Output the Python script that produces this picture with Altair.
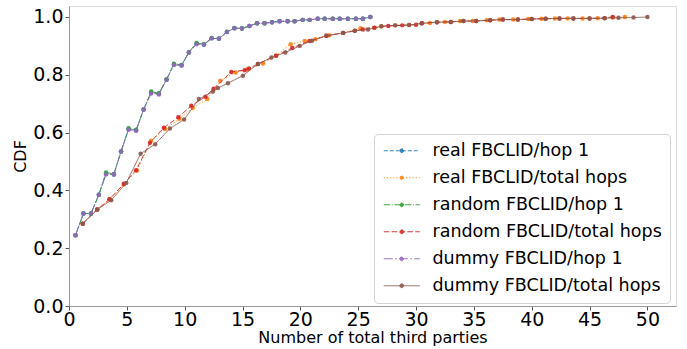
import altair as alt
import pandas as pd

series_names = [
    "real FBCLID/hop 1",
    "real FBCLID/total hops",
    "random FBCLID/hop 1",
    "random FBCLID/total hops",
    "dummy FBCLID/hop 1",
    "dummy FBCLID/total hops",
]
colors = ["#1f77b4", "#ff7f0e", "#2ca02c", "#d62728", "#9467bd", "#8c564b"]
dashes = [[4, 2], [1.2, 2], [6.4, 1.6, 1, 1.6], [5.5, 2.4], [9, 2.4, 1.5, 2.4], [1, 0]]
widths = [1, 1, 1, 1.5, 2, 1]

hop1_x = [0.56, 1.25, 1.9, 2.58, 3.2, 3.88, 4.5, 5.15, 5.8, 6.45, 7.1, 7.77, 8.43, 9.07,
          9.73, 10.36, 11.03, 11.66, 12.33, 12.96, 13.65, 14.3, 14.95, 15.6, 16.25, 16.9,
          17.55, 18.2, 18.9, 19.5, 20.2, 20.8, 21.5, 22.1, 22.8, 23.4, 24.1, 24.8, 25.4, 26.05]

real_hop1_y = [0.245, 0.32, 0.32, 0.385, 0.458, 0.455, 0.535, 0.612, 0.608, 0.68, 0.738,
               0.734, 0.783, 0.836, 0.833, 0.877, 0.908, 0.905, 0.926, 0.925, 0.948, 0.961,
               0.96, 0.969, 0.978, 0.978, 0.982, 0.985, 0.985, 0.985, 0.99, 0.99, 0.994,
               0.994, 0.994, 0.994, 0.994, 0.994, 0.994, 1.0]
random_hop1_y = [0.245, 0.32, 0.32, 0.385, 0.462, 0.457, 0.535, 0.615, 0.61, 0.68, 0.742,
                 0.736, 0.785, 0.838, 0.834, 0.878, 0.91, 0.906, 0.927, 0.926, 0.949, 0.962,
                 0.961, 0.969, 0.978, 0.978, 0.982, 0.985, 0.985, 0.985, 0.99, 0.99, 0.994,
                 0.994, 0.994, 0.994, 0.994, 0.994, 0.994, 1.0]
dummy_hop1_y = [0.245, 0.32, 0.32, 0.385, 0.455, 0.455, 0.535, 0.61, 0.606, 0.68, 0.735,
                0.732, 0.783, 0.834, 0.832, 0.877, 0.906, 0.904, 0.926, 0.925, 0.948, 0.961,
                0.96, 0.969, 0.978, 0.978, 0.982, 0.985, 0.985, 0.985, 0.99, 0.99, 0.994,
                0.994, 0.994, 0.994, 0.994, 0.994, 0.994, 1.0]

real_total_x = [1.19, 2.44, 3.5, 4.74, 5.87, 7.1, 8.3, 9.55, 10.7, 11.95, 13.08, 14.4, 15.4,
                16.77, 17.9, 19.16, 20.37, 21.3, 22.5, 23.7, 25.2, 26.4, 27.0, 28.2, 29.4,
                30.5, 31.2, 32.5, 33.8, 34.9, 36.1, 37.2, 38.4, 39.7, 40.85, 42.0, 43.1, 44.4,
                45.7, 47.0, 48.05]
real_total_y = [0.285, 0.334, 0.369, 0.42, 0.469, 0.572, 0.612, 0.648, 0.685, 0.716, 0.779,
                0.808, 0.818, 0.839, 0.866, 0.906, 0.917, 0.923, 0.937, 0.945, 0.961, 0.963,
                0.968, 0.971, 0.972, 0.978, 0.979, 0.983, 0.986, 0.986, 0.989, 0.991, 0.991,
                0.993, 0.994, 0.995, 0.995, 0.995, 0.996, 0.998, 1.0]

random_total_x = [1.19, 2.44, 3.5, 4.74, 5.8, 7.0, 8.2, 9.45, 10.57, 11.8, 12.5, 14.03, 15.18,
                  15.55, 16.33, 17.9, 19.3, 20.8, 22.25, 23.7, 24.7, 25.4, 26.4, 27.6, 28.8,
                  30.0, 30.5, 31.8, 33.0, 34.1, 35.2, 36.4, 37.5, 38.8, 40.0, 41.2, 42.4, 43.6,
                  45.0, 46.3, 47.0]
random_total_y = [0.285, 0.334, 0.369, 0.423, 0.47, 0.565, 0.617, 0.653, 0.693, 0.724, 0.752,
                  0.81, 0.816, 0.822, 0.837, 0.866, 0.893, 0.917, 0.935, 0.945, 0.952, 0.957,
                  0.963, 0.969, 0.971, 0.973, 0.978, 0.982, 0.983, 0.986, 0.986, 0.989, 0.991,
                  0.991, 0.993, 0.994, 0.995, 0.995, 0.995, 0.996, 1.0]

dummy_total_x = [1.19, 2.44, 3.65, 4.95, 6.19, 7.45, 8.72, 9.95, 11.23, 12.44, 12.87, 13.74,
                 15.03, 16.33, 17.5, 18.7, 19.94, 21.0, 22.25, 23.7, 24.7, 25.85, 27.0, 28.2,
                 29.4, 30.5, 31.8, 33.0, 34.1, 35.2, 36.4, 37.5, 38.8, 40.0, 41.2, 42.4, 43.6,
                 45.0, 46.3, 47.5, 48.8, 50.0]
dummy_total_y = [0.285, 0.334, 0.366, 0.426, 0.527, 0.56, 0.614, 0.645, 0.716, 0.742, 0.754,
                 0.771, 0.797, 0.837, 0.86, 0.877, 0.9, 0.918, 0.935, 0.945, 0.952, 0.957,
                 0.968, 0.971, 0.972, 0.978, 0.982, 0.983, 0.986, 0.986, 0.989, 0.991, 0.991,
                 0.993, 0.994, 0.995, 0.995, 0.995, 0.996, 0.997, 0.998, 1.0]

x_ticks = [0, 5, 10, 15, 20, 25, 30, 35, 40, 45, 50]
y_ticks = [0.0, 0.2, 0.4, 0.6, 0.8, 1.0]

series_data = [
    (hop1_x, real_hop1_y),
    (real_total_x, real_total_y),
    (hop1_x, random_hop1_y),
    (random_total_x, random_total_y),
    (hop1_x, dummy_hop1_y),
    (dummy_total_x, dummy_total_y),
]

frames = []
for name, (xs, ys) in zip(series_names, series_data):
    frames.append(pd.DataFrame({"series": name, "x": xs, "y": ys, "i": range(len(xs))}))
data = pd.concat(frames, ignore_index=True)

FONT = "DejaVu Sans"

# legend symbol: a 36px line with a small dot in its middle
LEGEND_SYMBOL = "M-3,0H3M0.32,0A0.32,0.32,0,1,1,-0.32,0A0.32,0.32,0,1,1,0.32,0Z"

legend = alt.Legend(
    title=None, orient="none", legendX=305, legendY=128,
    symbolType=LEGEND_SYMBOL, symbolSize=144, symbolStrokeWidth=1.2, symbolOffset=11,
    labelFontSize=17.5, labelFont=FONT, labelColor="black", labelLimit=400,
    fillColor="white", strokeColor="#d4d4d4", cornerRadius=4, padding=8,
    rowPadding=8, labelOffset=22,
)

x_enc = alt.X(
    "x:Q",
    scale=alt.Scale(domain=[0, 52.47], nice=False, zero=False),
    axis=alt.Axis(values=x_ticks, title="Number of total third parties", format="d",
                  labelFontSize=19, titleFontSize=16, labelFont=FONT, titleFont=FONT,
                  titleFontWeight="normal", labelColor="black", titleColor="black",
                  tickSize=4, tickColor="#555", domainColor="#999", labelPadding=0,
                  titlePadding=0, grid=False, labelFlush=False, labelOverlap=False),
)
y_enc = alt.Y(
    "y:Q",
    scale=alt.Scale(domain=[0, 1.038], nice=False, zero=False),
    axis=alt.Axis(values=y_ticks, title="CDF", format=".1f",
                  labelFontSize=19, titleFontSize=16, labelFont=FONT, titleFont=FONT,
                  titleFontWeight="normal", labelColor="black", titleColor="black",
                  tickSize=4, tickColor="#555", domainColor="#999", labelPadding=2,
                  titlePadding=4, grid=False, labelFlush=False, labelOverlap=False),
)
color_enc = alt.Color("series:N", scale=alt.Scale(domain=series_names, range=colors),
                      sort=series_names, legend=legend)
dash_enc = alt.StrokeDash("series:N", scale=alt.Scale(domain=series_names, range=dashes),
                          sort=series_names, legend=legend)
width_enc = alt.StrokeWidth("series:N", scale=alt.Scale(domain=series_names, range=widths),
                            sort=series_names, legend=legend)

layers = []
for name in series_names:
    base = alt.Chart(data).transform_filter(alt.datum.series == name)
    line = base.mark_line(opacity=0.9).encode(
        x=x_enc, y=y_enc, color=color_enc, strokeDash=dash_enc, strokeWidth=width_enc,
        order="i:Q",
    )
    pts = base.mark_point(filled=True, size=20, opacity=0.9).encode(
        x=x_enc, y=y_enc, color=color_enc,
    )
    layers += [line, pts]

chart = alt.layer(*layers).properties(
    width=607, height=300,
    padding={"left": 69, "top": 6, "right": 11, "bottom": 43},
    autosize=alt.AutoSizeParams(type="none"),
).configure_view(stroke="#999", strokeWidth=1.2).configure(font=FONT)

chart.save("out.html", embed_options={"renderer": "svg", "actions": False})
